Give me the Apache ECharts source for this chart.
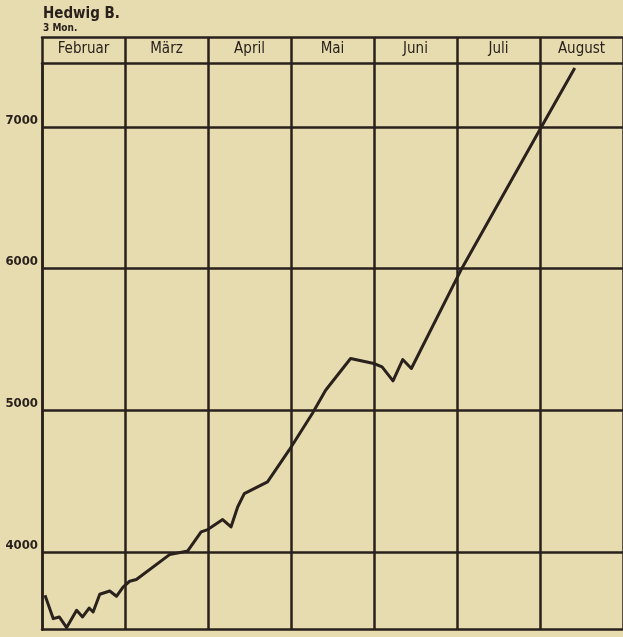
<!DOCTYPE html>
<html>
<head>
<meta charset="utf-8">
<script src="https://cdn.jsdelivr.net/npm/echarts@6/dist/echarts.min.js"></script>
<style>
  html, body { margin: 0; padding: 0; background: #e6dcb0; }
  #main { width: 623px; height: 637px; }
</style>
</head>
<body>
<div id="main"></div>
<script>
// Monate (gleich breite Spalten)
var months = ['Februar', 'März', 'April', 'Mai', 'Juni', 'Juli', 'August'];
// Position in Monaten ab 1. Februar
var monthPos = [0.036, 0.136, 0.208, 0.297, 0.417, 0.489, 0.568, 0.616, 0.696, 0.816,
  0.897, 0.976, 1.056, 1.137, 1.537, 1.756, 1.917, 1.997, 2.177, 2.277,
  2.357, 2.437, 2.717, 2.977, 3.257, 3.417, 3.718, 3.998, 4.097, 4.229,
  4.346, 4.450, 5.058, 6.018, 6.419];
// Gewicht in Gramm
var weights = [3693, 3528, 3540, 3465, 3587, 3540, 3603, 3575, 3700, 3723,
  3686, 3751, 3792, 3804, 3980, 4006, 4140, 4157, 4227, 4175,
  4316, 4411, 4493, 4717, 4976, 5140, 5364, 5329, 5305, 5206,
  5357, 5294, 6000, 7000, 7415];
var yTicks = [4000, 5000, 6000, 7000];

var ink = '#2a211c';
var font = 'DejaVu Sans Condensed';

var myChart = echarts.init(document.getElementById('main'));

var points = monthPos.map(function (m, i) {
  return [m, weights[i]];
});

option = {
  backgroundColor: '#e6dcb0',
  animation: false,
  title: {
    text: 'Hedwig B.',
    subtext: '3 Mon.',
    left: 38,
    top: 2,
    itemGap: 1,
    textStyle: { color: ink, fontFamily: font, fontSize: 15, fontWeight: 'bold' },
    subtextStyle: { color: ink, fontFamily: font, fontSize: 10, fontWeight: 'bold' }
  },
  grid: {
    left: 42,
    top: 63,
    width: 584,
    height: 566.7
  },
  xAxis: [{
    type: 'value',
    min: 0,
    max: 7,
    interval: 1,
    position: 'bottom',
    axisLine: { show: true, lineStyle: { color: ink, width: 2.5 } },
    axisTick: { show: false },
    axisLabel: { show: false },
    splitLine: { show: true, lineStyle: { color: ink, width: 2.5 } }
  }, {
    type: 'category',
    data: months,
    position: 'top',
    boundaryGap: true,
    axisLine: { show: true, lineStyle: { color: ink, width: 2.5 } },
    axisTick: { show: true, length: 26, interval: 0, lineStyle: { color: ink, width: 2.5 } },
    axisLabel: { color: ink, fontFamily: font, fontSize: 15, margin: 6, interval: 0 },
    splitLine: { show: false }
  }, {
    type: 'category',
    data: months,
    position: 'top',
    offset: 26,
    axisLine: { show: true, lineStyle: { color: ink, width: 2.5 } },
    axisTick: { show: false },
    axisLabel: { show: false },
    splitLine: { show: false }
  }],
  yAxis: {
    type: 'value',
    min: 3450,
    max: 7450,
    axisLine: { show: true, lineStyle: { color: ink, width: 2.5 } },
    axisTick: { show: false, customValues: yTicks },
    axisLabel: {
      customValues: yTicks,
      formatter: function (v) { return String(v); },
      color: ink,
      fontFamily: font,
      fontSize: 13,
      fontWeight: 'bold',
      margin: 4,
      verticalAlign: 'bottom'
    },
    splitLine: { show: true, lineStyle: { color: ink, width: 2.5 } }
  },
  series: [{
    name: 'Gewicht',
    type: 'line',
    xAxisIndex: 0,
    data: points,
    symbol: 'none',
    z: 5,
    lineStyle: { color: ink, width: 3, join: 'round' }
  }]
};

myChart.setOption(option);
</script>
</body>
</html>
